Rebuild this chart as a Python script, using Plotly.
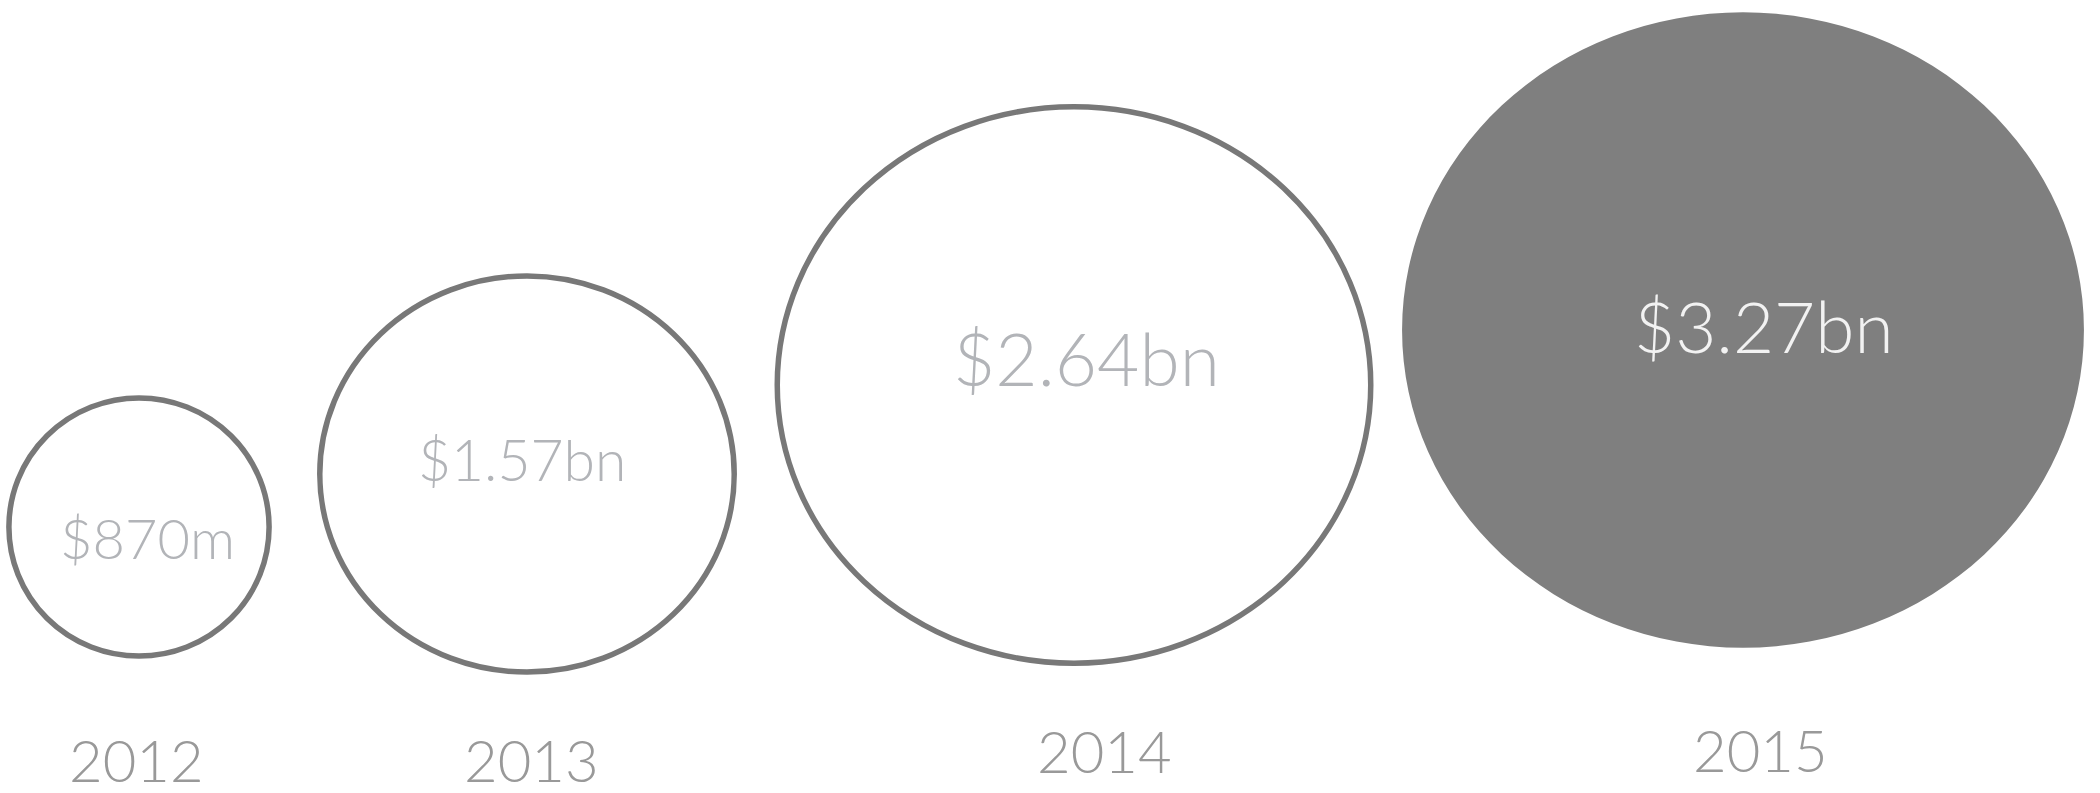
import math
import plotly.graph_objects as go

# Annual totals (billions of dollars)
years = ["2012", "2013", "2014", "2015"]
values_bn = [0.87, 1.57, 2.64, 3.27]
value_labels = ["$870m", "$1.57bn", "$2.64bn", "$3.27bn"]

# Page layout in pixel units (canvas is 2100 x 793)
W, H = 2100, 793
centers_x = [139, 527, 1074, 1743]
centers_y = [527, 474, 385, 330]
label_pos = [(147, 537), (522, 459), (1086, 358), (1763, 325)]
label_sizes = [56, 57, 73, 71]
year_pos = [(136, 759), (531, 759), (1104, 750), (1760, 749)]
highlight = [False, False, False, True]

OUTLINE = "#787878"
FILL = "#7f7f7f"
LABEL_GREY = "#b2b4b8"
YEAR_GREY = "#999999"
FONT = "Lato"


def radius_x(v):
    return -94.5 + 240.8 * math.sqrt(v)


def radius_y(v):
    return -71.8 + 215.4 * math.sqrt(v)


fig = go.Figure()

# invisible trace so the axes exist
fig.add_trace(go.Scatter(x=centers_x, y=centers_y, mode="markers",
                         marker=dict(opacity=0), hoverinfo="skip",
                         showlegend=False))

shapes = []
for v, cx, cy, hl in zip(values_bn, centers_x, centers_y, highlight):
    rx, ry = radius_x(v), radius_y(v)
    shapes.append(dict(
        type="circle", xref="x", yref="y",
        x0=cx - rx, x1=cx + rx, y0=cy - ry, y1=cy + ry,
        line=dict(color=FILL if hl else OUTLINE, width=0 if hl else 5.5),
        fillcolor=FILL if hl else "rgba(0,0,0,0)",
        layer="below",
    ))

annotations = []
for text, (lx, ly), fs, hl in zip(value_labels, label_pos, label_sizes, highlight):
    annotations.append(dict(
        x=lx, y=ly, xref="x", yref="y", text=text, showarrow=False,
        xanchor="center", yanchor="middle",
        font=dict(family=FONT, size=fs, weight=300,
                  color="#f2f2f2" if hl else LABEL_GREY),
    ))

for yr, (yx, yy) in zip(years, year_pos):
    annotations.append(dict(
        x=yx, y=yy, xref="x", yref="y", text=yr, showarrow=False,
        xanchor="center", yanchor="middle",
        font=dict(family=FONT, size=58, weight=300, color=YEAR_GREY),
    ))

fig.update_layout(
    width=W, height=H,
    margin=dict(l=0, r=0, t=0, b=0),
    paper_bgcolor="white", plot_bgcolor="white",
    shapes=shapes, annotations=annotations,
    xaxis=dict(range=[0, W], visible=False, fixedrange=True),
    yaxis=dict(range=[H, 0], visible=False, fixedrange=True),
    showlegend=False,
)

fig.write_html("out.html", config={"displayModeBar": False})
